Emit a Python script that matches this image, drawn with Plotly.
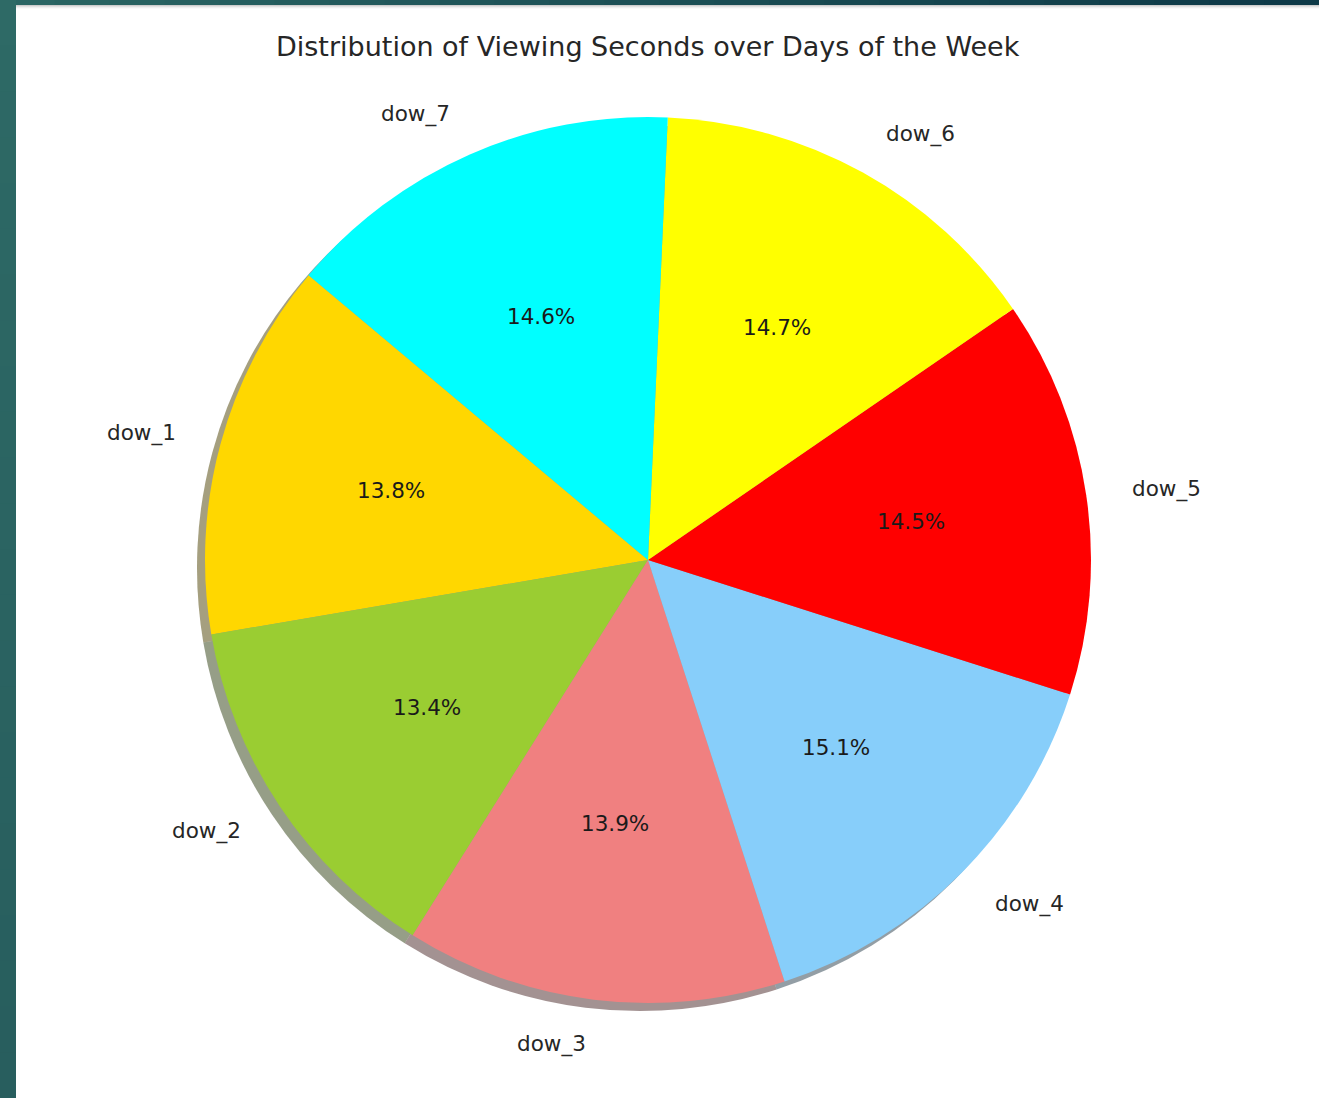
import math
import plotly.graph_objects as go

# ---- data -------------------------------------------------------------
day_labels = ["dow_1", "dow_2", "dow_3", "dow_4", "dow_5", "dow_6", "dow_7"]
view_share = [13.8, 13.4, 13.9, 15.1, 14.5, 14.7, 14.6]
slice_colors = ["#FFD700", "#9ACD32", "#F08080", "#87CEFA", "#FF0000", "#FFFF00", "#00FFFF"]
chart_title = "Distribution of Viewing Seconds over Days of the Week"

# ---- geometry / style -------------------------------------------------
W, H = 1319, 1098
CX, CY, R = 648, 560, 443        # pie centre and radius in page pixels
START_DEG = 140                  # first wedge starts here (ccw from 3 o'clock)
SHADOW_OFF = 8                   # drop-shadow offset (left / down)
FONT = "DejaVu Sans"
TEXT_COLOR = "#262626"
LABEL_SIZE = 21.5
TITLE_SIZE = 27


def domain_for(cx, cy, r):
    return dict(x=[(cx - r) / W, (cx + r) / W],
                y=[1 - (cy + r) / H, 1 - (cy - r) / H])


def to_paper(px, py):
    return px / W, 1 - py / H


def hex_rgb(h):
    h = h.lstrip("#")
    return [int(h[i:i + 2], 16) for i in (0, 2, 4)]


total = sum(view_share)
first_span = view_share[0] / total * 360
# plotly measures rotation clockwise from 12 o'clock
rotation = -(START_DEG - 90) - first_span

shadow_colors = ["rgba(%d,%d,%d,0.5)" % tuple(int(0.3 * c) for c in hex_rgb(col))
                 for col in slice_colors]

fig = go.Figure()

# shadow wedges, offset down-left
fig.add_trace(go.Pie(
    labels=day_labels, values=view_share, sort=False,
    direction="counterclockwise", rotation=rotation,
    marker=dict(colors=shadow_colors, line=dict(width=0)),
    textinfo="none", hoverinfo="skip", showlegend=False,
    domain=domain_for(CX - SHADOW_OFF, CY + SHADOW_OFF, R),
))

# main wedges
fig.add_trace(go.Pie(
    labels=day_labels, values=view_share, sort=False,
    direction="counterclockwise", rotation=rotation,
    marker=dict(colors=slice_colors, line=dict(width=0)),
    textinfo="none", showlegend=False,
    domain=domain_for(CX, CY, R),
))

# wedge labels (outside) and percentages (inside)
annotations = []
angle = START_DEG
for lab, val in zip(day_labels, view_share):
    span = val / total * 360
    mid = math.radians(angle + span / 2)
    angle += span
    c, s = math.cos(mid), math.sin(mid)

    lx, ly = to_paper(CX + 1.1 * R * c, CY - 1.1 * R * s)
    annotations.append(dict(
        x=lx, y=ly, xref="paper", yref="paper", text=lab, showarrow=False,
        xanchor="left" if c > 0 else "right", yanchor="middle",
        font=dict(family=FONT, size=LABEL_SIZE, color=TEXT_COLOR),
    ))

    px_, py_ = to_paper(CX + 0.6 * R * c, CY - 0.6 * R * s)
    annotations.append(dict(
        x=px_, y=py_, xref="paper", yref="paper",
        text="%.1f%%" % (val / total * 100), showarrow=False,
        xanchor="center", yanchor="middle",
        font=dict(family=FONT, size=LABEL_SIZE, color="#1a1a1a"),
    ))

tx, ty = to_paper(CX, 47)
annotations.append(dict(
    x=tx, y=ty, xref="paper", yref="paper", text=chart_title, showarrow=False,
    xanchor="center", yanchor="middle",
    font=dict(family=FONT, size=TITLE_SIZE, color=TEXT_COLOR),
))

# slide frame: teal strip on the left, dark band across the top
shapes = []
bands = 24
top_a, top_b = hex_rgb("#2b6664"), hex_rgb("#0e3a48")
for i in range(bands):
    t = i / (bands - 1)
    col = "rgb(%d,%d,%d)" % tuple(int(a + (b - a) * t) for a, b in zip(top_a, top_b))
    x0, _ = to_paper(W * i / bands, 0)
    x1, _ = to_paper(W * (i + 1) / bands + 1, 0)
    shapes.append(dict(type="rect", xref="paper", yref="paper",
                       x0=x0, x1=x1, y0=1 - 5 / H, y1=1,
                       fillcolor=col, line=dict(width=0), layer="below"))
for k, g in enumerate([205, 225, 240, 250]):
    shapes.append(dict(type="rect", xref="paper", yref="paper",
                       x0=0, x1=1, y0=1 - (6 + k) / H, y1=1 - (5 + k) / H,
                       fillcolor="rgb(%d,%d,%d)" % (g, g, g),
                       line=dict(width=0), layer="below"))
left_a, left_b = hex_rgb("#2e6a66"), hex_rgb("#285e5e")
for i in range(bands):
    t = i / (bands - 1)
    col = "rgb(%d,%d,%d)" % tuple(int(a + (b - a) * t) for a, b in zip(left_a, left_b))
    shapes.append(dict(type="rect", xref="paper", yref="paper",
                       x0=0, x1=16 / W,
                       y0=1 - (H * (i + 1) / bands + 1) / H, y1=1 - H * i / bands / H,
                       fillcolor=col, line=dict(width=0), layer="below"))

fig.update_layout(
    width=W, height=H,
    margin=dict(l=0, r=0, t=0, b=0),
    paper_bgcolor="white", plot_bgcolor="white",
    showlegend=False,
    annotations=annotations,
    shapes=shapes,
)

fig.write_html("out.html")
